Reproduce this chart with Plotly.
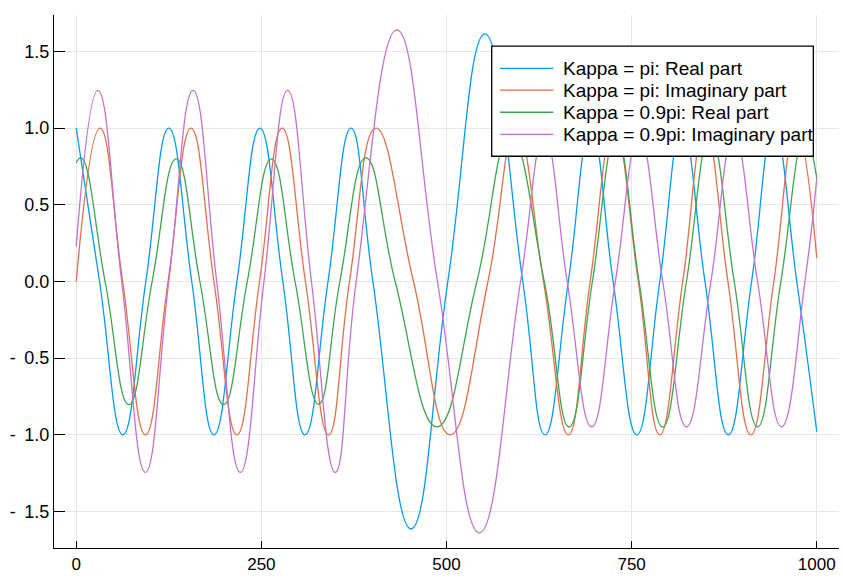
import plotly.graph_objects as go

# Sample positions (peaks, troughs and zero crossings) of each wave function
x_pi_re = [0, 31.5, 63, 94, 125, 156, 186, 217, 248, 279, 309, 340, 371, 400.6, 452, 501.8,
           552, 603, 633, 664.5, 695, 725, 757, 788, 818, 849, 880.5, 912, 942, 973, 1000]
y_pi_re = [1, 0, -1, 0, 1, 0, -1, 0, 1, 0, -1, 0, 1, 0, -1.613, 0,
           1.615, 0, -1, 0, 1, 0, -1, 0, 1, 0, -1, 0, 1, 0, -0.98]

x_pi_im = [0, 32, 62.7, 93.5, 124, 155, 186, 217, 247.5, 278, 309.5, 340.8, 369, 404.7, 455.4, 504.9,
           556, 594, 631, 664.5, 694, 726, 759, 788, 819, 849, 880, 911, 942, 972, 1000]
y_pi_im = [0, 1, 0, -1, 0, 1, 0, -1, 0, 1, 0, -1, 0, 1, 0, -1,
           0, 1, 0, -1, 0, 1, 0, -1, 0, 1, 0, -1, 0, 1, 0.153]

x_09_re = [0, 6.7, 39, 71, 102.5, 135, 167, 199, 231, 263.5, 295.5, 327.3, 356, 391.2, 430.7, 487,
           541, 586, 632, 665.5, 697, 729, 760, 791.8, 824, 856, 888.5, 920, 951.5, 984, 1000]
y_09_re = [0.775, 0.806, 0, -0.803, 0, 0.8, 0, -0.803, 0, 0.8, 0, -0.8, 0, 0.806, 0, -0.948,
           0, 0.948, 0, -0.948, 0, 0.948, 0, -0.948, 0, 0.948, 0, -0.948, 0, 0.948, 0.672]

x_09_im = [0, 29.2, 61.4, 93.5, 125, 157.8, 189.7, 221.6, 253.5, 285.5, 317.6, 349.8, 378, 433, 487.8,
           544.5, 600, 632, 663, 696, 728, 760, 792, 824, 857, 888, 920, 952.4, 984, 1000]
y_09_im = [0.227, 1.246, 0, -1.245, 0, 1.246, 0, -1.245, 0, 1.246, 0, -1.245, 0, 1.641, 0,
           -1.639, 0, 0.948, 0, -0.948, 0, 0.948, 0, -0.948, 0, 0.948, 0, -0.948, 0, 0.672]

series_names = ["Kappa = pi: Real part", "Kappa = pi: Imaginary part",
                "Kappa = 0.9pi: Real part", "Kappa = 0.9pi: Imaginary part"]
colors = ["#009AFA", "#E36F47", "#3EA44E", "#C371D2"]

x_ticks = [0, 250, 500, 750, 1000]
y_ticks = [-1.5, -1.0, -0.5, 0.0, 0.5, 1.0, 1.5]
y_tick_text = ["- \u20091.5", "- \u20091.0", "- \u20090.5", "0.0", "0.5", "1.0", "1.5"]

font_family = "Liberation Sans, Arial, sans-serif"

fig = go.Figure()
for xs, ys, name, col in zip([x_pi_re, x_pi_im, x_09_re, x_09_im],
                             [y_pi_re, y_pi_im, y_09_re, y_09_im],
                             series_names, colors):
    fig.add_trace(go.Scatter(x=xs, y=ys, name=name, mode="lines", showlegend=False,
                             line=dict(color=col, width=1.3, shape="spline", smoothing=1.3)))

# Legend box drawn in paper coordinates (top-right, over the curves)
box_x0, box_x1 = 0.5576, 0.9673
box_y0, box_y1 = 0.7350, 0.9417
key_x0, key_x1 = 0.5682, 0.6361
label_x = 0.6455
row_y = [0.9000, 0.8590, 0.8175, 0.7760]

fig.add_shape(type="rect", xref="paper", yref="paper",
              x0=box_x0, x1=box_x1, y0=box_y0, y1=box_y1,
              fillcolor="white", line=dict(color="black", width=1.3), layer="above")
for name, col, ry in zip(series_names, colors, row_y):
    fig.add_shape(type="line", xref="paper", yref="paper",
                  x0=key_x0, x1=key_x1, y0=ry, y1=ry,
                  line=dict(color=col, width=1.3), layer="above")
    fig.add_annotation(xref="paper", yref="paper", x=label_x, y=ry,
                       xanchor="left", yanchor="middle", text=name, showarrow=False,
                       font=dict(family=font_family, size=19, color="black"))

fig.update_layout(
    width=843, height=578,
    margin=dict(l=54, r=4, t=15, b=26),
    paper_bgcolor="white", plot_bgcolor="white",
    font=dict(family=font_family, size=18, color="black"),
    showlegend=False,
    xaxis=dict(
        range=[-30, 1030], tickvals=x_ticks, ticktext=[str(v) for v in x_ticks],
        showgrid=True, gridcolor="#e6e6e6", gridwidth=1,
        zeroline=False, showline=True, linecolor="black", linewidth=1.3,
        ticks="inside", ticklen=7, tickwidth=1.3, tickcolor="black",
        tickfont=dict(size=17),
    ),
    yaxis=dict(
        range=[-1.738, 1.738], tickvals=y_ticks, ticktext=y_tick_text,
        showgrid=True, gridcolor="#e6e6e6", gridwidth=1,
        zeroline=False, showline=True, linecolor="black", linewidth=1.3,
        ticks="inside", ticklen=11, tickwidth=1.3, tickcolor="black",
        tickfont=dict(size=18),
    ),
)

fig.write_html("out.html")
